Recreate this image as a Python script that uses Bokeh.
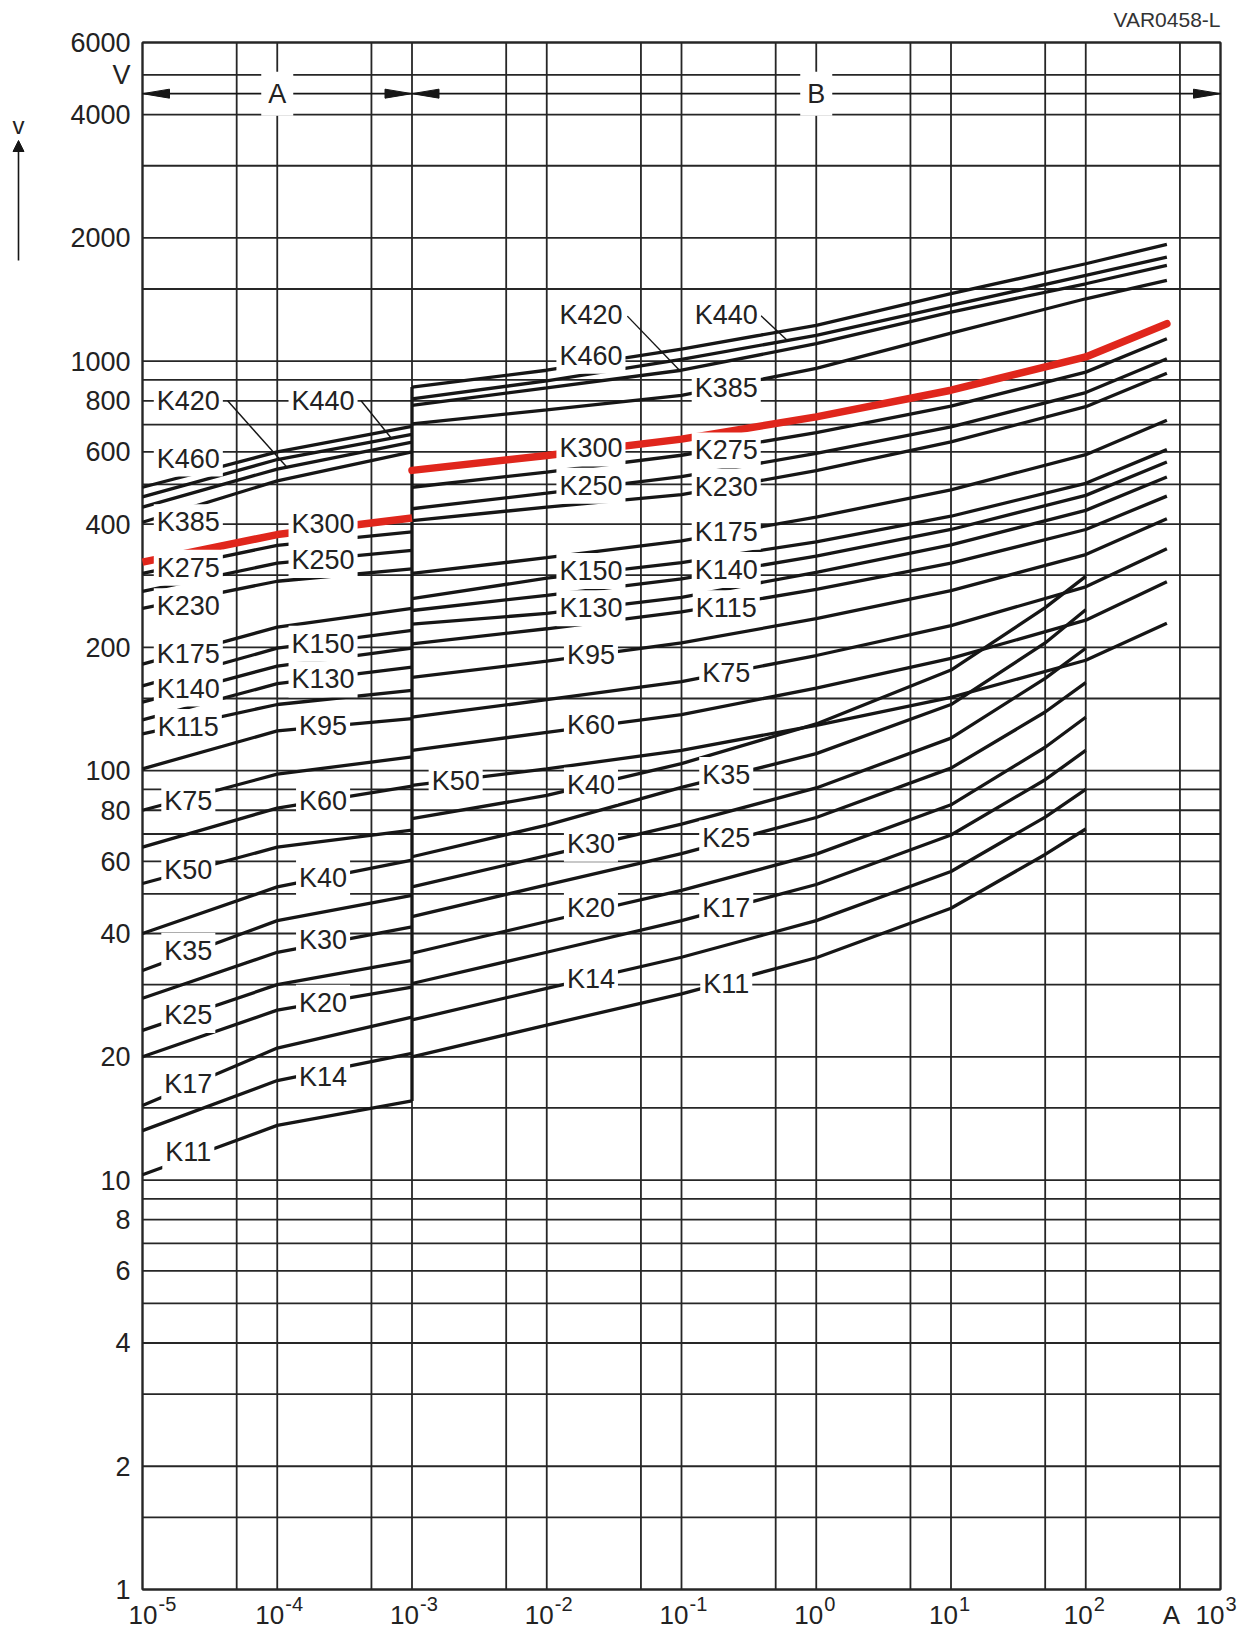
from bokeh.plotting import figure
from bokeh.models import Label, Arrow, NormalHead, Range1d
from bokeh.core.properties import value
from bokeh.embed import file_html
from bokeh.resources import INLINE
import math

FONT = "Liberation Sans"
INK = "#161616"
GRID = "#262626"
RED = "#e0261c"
TXT = "#222222"

# ---------------- data (current in A, voltage in V) ----------------
I_A = [1e-5, 1e-4, 1e-3]
I_B_HIGH = [1e-3, 1e-2, 1e-1, 1, 10, 100, 400]
I_B_LOW = [1e-3, 1e-2, 1e-1, 1, 10, 50, 100]

# region A  (1e-5 ... 1e-3 A)
K460_A = [492, 600, 693]
K440_A = [466, 575, 662]
K420_A = [440, 545, 634]
K385_A = [404, 510, 600]
K300_A = [323, 377, 414]
K275_A = [303, 355, 383]
K250_A = [274, 321, 345]
K230_A = [249, 290, 311]
K175_A = [182, 224, 249]
K150_A = [161, 199, 220]
K140_A = [147, 180, 199]
K130_A = [133, 163, 179]
K115_A = [123, 145, 157]
K95_A = [101, 125, 134]
K75_A = [80, 98, 108]
K60_A = [65, 81, 91.6]
K50_A = [53, 65, 71.5]
K40_A = [40, 52, 60.4]
K35_A = [32.5, 43, 49.6]
K30_A = [27.8, 36, 41.5]
K25_A = [23.2, 30, 34.4]
K20_A = [20, 26, 29.6]
K17_A = [15.2, 21, 25]
K14_A = [13.2, 17.5, 20.4]
K11_A = [10.3, 13.6, 15.6]

# region B, types up to 400 A
K460_B = [864, 950, 1070, 1223, 1461, 1729, 1928]
K440_B = [809, 895, 1010, 1156, 1368, 1619, 1795]
K420_B = [780, 860, 950, 1103, 1318, 1545, 1713]
K385_B = [703, 760, 825, 960, 1170, 1420, 1574]
K300_B = [541, 588, 645, 731, 849, 1024, 1234]
K275_B = [492, 536, 589, 669, 776, 940, 1134]
K250_B = [436, 476, 522, 595, 691, 838, 1014]
K230_B = [408, 440, 472, 540, 635, 774, 934]
K175_B = [303, 331, 364, 416, 485, 591, 717]
K150_B = [263, 295, 322, 362, 418, 503, 608]
K140_B = [246, 268, 294, 334, 388, 470, 567]
K130_B = [228, 242, 265, 305, 356, 432, 521]
K115_B = [204, 222, 244, 277, 321, 388, 468]
K95_B = [169, 185, 205, 235, 275, 337, 412]
K75_B = [135, 149, 165, 191, 226, 281, 348]
K60_B = [112, 124, 137, 159, 188, 233, 289]
K50_B = [92, 101, 112, 129, 151, 186, 229]

# region B, types up to 100 A
K40_B = [76.3, 87, 104, 130, 176, 250, 298]
K35_B = [61.6, 73.6, 91, 110, 145, 205, 247]
K30_B = [52, 62, 74, 90.7, 120, 168, 199]
K25_B = [44, 52.6, 62.7, 76.8, 101.4, 139, 164]
K20_B = [35.8, 42.8, 51, 62.5, 82.5, 114, 135]
K17_B = [30.2, 36, 43, 52.7, 69.6, 95, 112]
K14_B = [24.6, 29.4, 35, 43, 56.7, 77, 90]
K11_B = [20, 23.9, 28.5, 34.9, 46.1, 62.4, 72]

SERIES = [
    ("K460", K460_A, K460_B, I_B_HIGH), ("K440", K440_A, K440_B, I_B_HIGH),
    ("K420", K420_A, K420_B, I_B_HIGH), ("K385", K385_A, K385_B, I_B_HIGH),
    ("K300", K300_A, K300_B, I_B_HIGH), ("K275", K275_A, K275_B, I_B_HIGH),
    ("K250", K250_A, K250_B, I_B_HIGH), ("K230", K230_A, K230_B, I_B_HIGH),
    ("K175", K175_A, K175_B, I_B_HIGH), ("K150", K150_A, K150_B, I_B_HIGH),
    ("K140", K140_A, K140_B, I_B_HIGH), ("K130", K130_A, K130_B, I_B_HIGH),
    ("K115", K115_A, K115_B, I_B_HIGH), ("K95", K95_A, K95_B, I_B_HIGH),
    ("K75", K75_A, K75_B, I_B_HIGH), ("K60", K60_A, K60_B, I_B_HIGH),
    ("K50", K50_A, K50_B, I_B_HIGH),
    ("K40", K40_A, K40_B, I_B_LOW), ("K35", K35_A, K35_B, I_B_LOW),
    ("K30", K30_A, K30_B, I_B_LOW), ("K25", K25_A, K25_B, I_B_LOW),
    ("K20", K20_A, K20_B, I_B_LOW), ("K17", K17_A, K17_B, I_B_LOW),
    ("K14", K14_A, K14_B, I_B_LOW), ("K11", K11_A, K11_B, I_B_LOW),
]
HIGHLIGHT = "K300"

# curve labels: (text, current, voltage)
LABELS = [
    ("K420", 10**-4.66, 800), ("K460", 10**-4.66, 578), ("K385", 10**-4.66, 404),
    ("K275", 10**-4.66, 313), ("K230", 10**-4.66, 252), ("K175", 10**-4.66, 193),
    ("K140", 10**-4.66, 158.6), ("K115", 10**-4.66, 127.7), ("K75", 10**-4.66, 84.3),
    ("K50", 10**-4.66, 57.3), ("K35", 10**-4.66, 36.3), ("K25", 10**-4.66, 25.3),
    ("K17", 10**-4.66, 17.2), ("K11", 10**-4.66, 11.7),
    ("K440", 10**-3.66, 800), ("K300", 10**-3.66, 400), ("K250", 10**-3.66, 327),
    ("K150", 10**-3.66, 204), ("K130", 10**-3.66, 167), ("K95", 10**-3.66, 128.5),
    ("K60", 10**-3.66, 84.3), ("K40", 10**-3.66, 54.7), ("K30", 10**-3.66, 38.5),
    ("K20", 10**-3.66, 27.1), ("K14", 10**-3.66, 17.9),
    ("K50", 10**-2.676, 94.2),
    ("K420", 10**-1.672, 1295), ("K460", 10**-1.672, 1031), ("K300", 10**-1.672, 612),
    ("K250", 10**-1.672, 496), ("K150", 10**-1.672, 307), ("K130", 10**-1.672, 249),
    ("K95", 10**-1.672, 192), ("K60", 10**-1.672, 129), ("K40", 10**-1.672, 92),
    ("K30", 10**-1.672, 66.3), ("K20", 10**-1.672, 46.1), ("K14", 10**-1.672, 31),
    ("K440", 10**-0.668, 1295), ("K385", 10**-0.668, 860), ("K275", 10**-0.668, 605),
    ("K230", 10**-0.668, 493), ("K175", 10**-0.668, 383), ("K140", 10**-0.668, 309),
    ("K115", 10**-0.668, 249), ("K75", 10**-0.668, 173), ("K35", 10**-0.668, 97.6),
    ("K25", 10**-0.668, 68.3), ("K17", 10**-0.668, 46.1), ("K11", 10**-0.668, 30.1),
]

# leader lines from labels to curves: (I0, V0, I1, V1)
LEADERS = [
    (10**-4.368, 800, 10**-3.923, 548),
    (10**-3.378, 800, 10**-3.156, 650),
    (10**-1.402, 1288, 10**-1.015, 950),
    (10**-0.410, 1290, 10**-0.212, 1121),
]

Y_TICKS = [1, 2, 4, 6, 8, 10, 20, 40, 60, 80, 100, 200, 400, 600, 800,
           1000, 2000, 4000, 5000, 6000]
Y_TICK_TEXT = ["1", "2", "4", "6", "8", "10", "20", "40", "60", "80", "100",
               "200", "400", "600", "800", "1000", "2000", "4000", "V", "6000"]
X_DECADES = [1e-5, 1e-4, 1e-3, 1e-2, 1e-1, 1, 10, 100, 1000]
X_EXP_TEXT = ["-5", "-4", "-3", "-2", "-1", "0", "1", "2", "3"]
X_UNIT = "A"
FIG_CODE = "VAR0458-L"
Y_QUANTITY = "v"

X_MIN, X_MAX = 1e-5, 1e3
Y_MIN, Y_MAX = 1, 6000
X_GRID = [m * 10.0 ** e for e in range(-5, 3) for m in (1, 5)] + [1e3]
Y_GRID = [v for v in (m * 10.0 ** e for e in range(0, 4)
                      for m in (1, 1.5, 2, 3, 4, 5, 6, 7, 8, 9)) if v <= Y_MAX]

REGION_V = 4500
REGIONS = [("A", 1e-5, 1e-3, 1e-4), ("B", 1e-3, 1e3, 1.0)]

# ---------------- layout (pixels) ----------------
W, H = 1250, 1632
FL, FR, FT, FB = 142, 1220, 42, 1589          # plot frame edges on the canvas
PXX = (FR - FL) / math.log10(X_MAX / X_MIN)    # px per decade, x
PXY = (FB - FT) / math.log10(Y_MAX / Y_MIN)    # px per decade, y


def fx(px):
    return 10 ** (px / PXX)


def fy(px):
    return 10 ** (px / PXY)


p = figure(width=W, height=H, x_axis_type="log", y_axis_type="log",
           x_axis_location=None, y_axis_location=None,
           x_range=Range1d(X_MIN / fx(FL), X_MAX * fx(W - FR)),
           y_range=Range1d(Y_MIN / fy(H - FB), Y_MAX * fy(FT)),
           output_backend="svg", toolbar_location=None,
           min_border=0, min_border_left=0, min_border_right=0,
           min_border_top=0, min_border_bottom=0)
p.outline_line_color = None
p.background_fill_color = "white"
p.border_fill_color = "white"
p.grid.visible = False

# grid and frame
p.segment(x0=X_GRID, y0=[Y_MIN] * len(X_GRID), x1=X_GRID, y1=[Y_MAX] * len(X_GRID),
          line_color=GRID, line_width=1.8)
p.segment(x0=[X_MIN] * len(Y_GRID), y0=Y_GRID, x1=[X_MAX] * len(Y_GRID), y1=Y_GRID,
          line_color=GRID, line_width=1.8)
p.quad(left=[X_MIN], right=[X_MAX], bottom=[Y_MIN], top=[Y_MAX],
       fill_color=None, line_color=GRID, line_width=2)

# y tick labels
p.text(x=[X_MIN / fx(12)] * len(Y_TICKS), y=Y_TICKS, text=Y_TICK_TEXT,
       text_font=value(FONT), text_font_size="27px", text_color=TXT,
       text_align="right", text_baseline="middle")

# x tick labels 10^n and unit
shift = [8] + [0] * (len(X_DECADES) - 2) + [-3]
p.text(x=[d * fx(7 + s) for d, s in zip(X_DECADES, shift)],
       y=[Y_MIN / fy(25)] * len(X_DECADES), text=["10"] * len(X_DECADES),
       text_font=value(FONT), text_font_size="26px", text_color=TXT,
       text_align="right", text_baseline="middle")
p.text(x=[d * fx(8 + s) for d, s in zip(X_DECADES, shift)],
       y=[Y_MIN / fy(14)] * len(X_DECADES), text=X_EXP_TEXT,
       text_font=value(FONT), text_font_size="20px", text_color=TXT,
       text_align="left", text_baseline="middle")
p.text(x=[X_MAX / fx(49)], y=[Y_MIN / fy(25)], text=[X_UNIT],
       text_font=value(FONT), text_font_size="26px", text_color=TXT,
       text_align="center", text_baseline="middle")

# figure code, top right
p.text(x=[X_MAX], y=[Y_MAX * fy(23)], text=[FIG_CODE],
       text_font=value(FONT), text_font_size="21px", text_color="#333333",
       text_align="right", text_baseline="middle")

# quantity indicator "v" with upward arrow in the left margin
p.text(x=[X_MIN / fx(124)], y=[Y_MAX / fy(83)], text=[Y_QUANTITY],
       text_font=value(FONT), text_font_size="24px", text_color=TXT,
       text_align="center", text_baseline="middle")
p.add_layout(Arrow(x_start=X_MIN / fx(124), y_start=Y_MAX / fy(218),
                   x_end=X_MIN / fx(124), y_end=Y_MAX / fy(98),
                   line_width=1.6, line_color=INK,
                   end=NormalHead(size=11, fill_color=INK, line_color=INK)))

# curves
for name, va, vb, ib in SERIES:
    if name == HIGHLIGHT:
        continue
    p.line(I_A, va, line_width=3.3, line_color=INK, line_cap="butt")
    p.line(ib, vb, line_width=3.3, line_color=INK, line_cap="butt")

# boundary between regions A and B
p.segment(x0=[I_A[-1]], y0=[K11_A[-1]], x1=[I_A[-1]], y1=[K460_B[0]],
          line_width=3.3, line_color=INK)

for name, va, vb, ib in SERIES:
    if name == HIGHLIGHT:
        p.line(I_A, va, line_width=7.5, line_color=RED, line_cap="butt")
        p.line(ib, vb, line_width=7.5, line_color=RED, line_cap="round")

# leader lines
p.segment(x0=[l[0] for l in LEADERS], y0=[l[1] for l in LEADERS],
          x1=[l[2] for l in LEADERS], y1=[l[3] for l in LEADERS],
          line_width=1.4, line_color=INK)

# region arrows A / B
hx, hy = fx(27), fy(4.5)
for txt, x0, x1, xm in REGIONS:
    p.segment(x0=[x0], y0=[REGION_V], x1=[x1], y1=[REGION_V], line_width=1.6, line_color=INK)
    p.patch([x0, x0 * hx, x0 * hx], [REGION_V, REGION_V * hy, REGION_V / hy],
            fill_color=INK, line_color=INK)
    p.patch([x1, x1 / hx, x1 / hx], [REGION_V, REGION_V * hy, REGION_V / hy],
            fill_color=INK, line_color=INK)
    p.add_layout(Label(x=xm, y=REGION_V, text=txt, text_font=FONT, text_font_size="27px",
                       text_color=TXT, text_align="center", text_baseline="middle",
                       background_fill_color="white", background_fill_alpha=1.0,
                       padding=7))

# curve labels
for txt, xi, yv in LABELS:
    p.add_layout(Label(x=xi, y=yv, text=txt, text_font=FONT, text_font_size="27px",
                       text_color=TXT, text_align="center", text_baseline="middle",
                       background_fill_color="white", background_fill_alpha=1.0,
                       padding=3))

open("out.html", "w").write(file_html(p, INLINE))
